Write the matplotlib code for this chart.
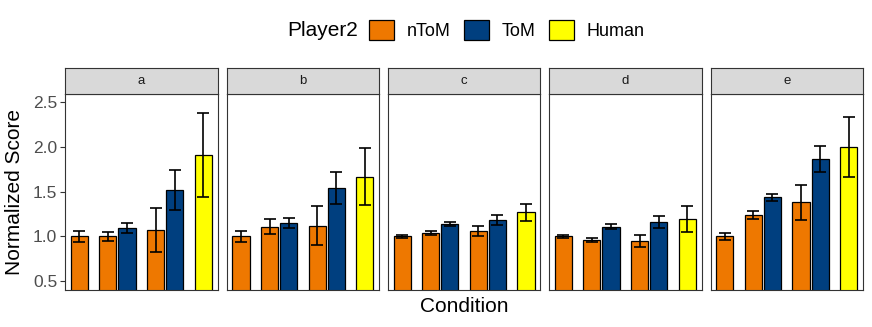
import matplotlib
matplotlib.use("Agg")
import matplotlib.pyplot as plt
from matplotlib.patches import Patch

plt.rcParams["font.family"] = ["Liberation Sans", "DejaVu Sans"]

# data
panels = ["a", "b", "c", "d", "e"]
player2 = ["nToM", "nToM", "ToM", "nToM", "ToM", "Human"]
condition = [1, 1, 2, 2, 3, 3]
slot = [-1, 1, -1, 1, -1, 1]

score_a = [1.00, 1.00, 1.09, 1.07, 1.52, 1.91]
score_b = [1.00, 1.11, 1.15, 1.12, 1.54, 1.67]
score_c = [1.00, 1.04, 1.14, 1.06, 1.18, 1.27]
score_d = [1.00, 0.96, 1.11, 0.95, 1.16, 1.19]
score_e = [1.00, 1.24, 1.44, 1.38, 1.87, 2.00]

err_a = [0.065, 0.05, 0.055, 0.25, 0.22, 0.47]
err_b = [0.06, 0.08, 0.06, 0.22, 0.18, 0.32]
err_c = [0.02, 0.02, 0.02, 0.06, 0.055, 0.095]
err_d = [0.015, 0.02, 0.025, 0.07, 0.065, 0.145]
err_e = [0.035, 0.045, 0.04, 0.20, 0.145, 0.335]

scores = [score_a, score_b, score_c, score_d, score_e]
errors = [err_a, err_b, err_c, err_d, err_e]

levels = ["nToM", "ToM", "Human"]
colors = {"nToM": "#EE7800", "ToM": "#003F7F", "Human": "#FFFF00"}

W, H = 872, 327
fig = plt.figure(figsize=(W / 100, H / 100), dpi=100)

lefts = [65, 226.7, 387.8, 549, 710.5]
pw = 152.5
ptop, pbot = 93.5, 290
strip_top = 67.5
dodge = 0.3
bar_w = 0.36

for i, name in enumerate(panels):
    ax = fig.add_axes([lefts[i] / W, 1 - pbot / H, pw / W, (pbot - ptop) / H])
    xs = [c + s * dodge for c, s in zip(condition, slot)]
    ax.bar(xs, scores[i], width=bar_w, color=[colors[p] for p in player2],
           edgecolor="black", linewidth=0.9, zorder=2)
    ax.errorbar(xs, scores[i], yerr=errors[i], fmt="none", ecolor="black",
                elinewidth=1.2, capsize=4.5, capthick=1.2, zorder=3)
    ax.set_xlim(0.4, 3.6)
    ax.set_ylim(0.4, 2.6)
    ax.set_xticks([])
    for sp in ax.spines.values():
        sp.set_color("#333333")
        sp.set_linewidth(0.8)
    if i == 0:
        ax.set_yticks([0.5, 1.0, 1.5, 2.0, 2.5])
        ax.set_yticklabels(["0.5", "1.0", "1.5", "2.0", "2.5"])
        ax.tick_params(axis="y", length=3.5, width=0.8, color="#333333",
                       labelsize=12.5, labelcolor="#4D4D4D", pad=2)
    else:
        ax.set_yticks([])

    sax = fig.add_axes([lefts[i] / W, 1 - ptop / H, pw / W, (ptop - strip_top) / H])
    sax.set_facecolor("#D9D9D9")
    sax.set_xticks([])
    sax.set_yticks([])
    for sp in sax.spines.values():
        sp.set_color("#333333")
        sp.set_linewidth(0.8)
    sax.text(0.5, 0.5, name, ha="center", va="center", fontsize=9.5,
             color="#1A1A1A", transform=sax.transAxes)

fig.text(15 / W, 1 - 191.75 / H, "Normalized Score", rotation=90,
         ha="center", va="center", fontsize=15)
fig.text(464 / W, 1 - 306 / H, "Condition", ha="center", va="center", fontsize=15)

handles = [Patch(facecolor=colors[l], edgecolor="black", linewidth=0.9) for l in levels]
fig.text(322.5 / W, 1 - 30 / H, "Player2", ha="center", va="center", fontsize=15)
fig.legend(handles, levels, loc="center left", bbox_to_anchor=(369 / W, 1 - 30 / H),
           ncol=3, frameon=False, fontsize=13, handlelength=1.38, handleheight=1.38,
           handletextpad=0.72, columnspacing=0.72, borderaxespad=0, borderpad=0)

fig.savefig("out.png", dpi=100)
